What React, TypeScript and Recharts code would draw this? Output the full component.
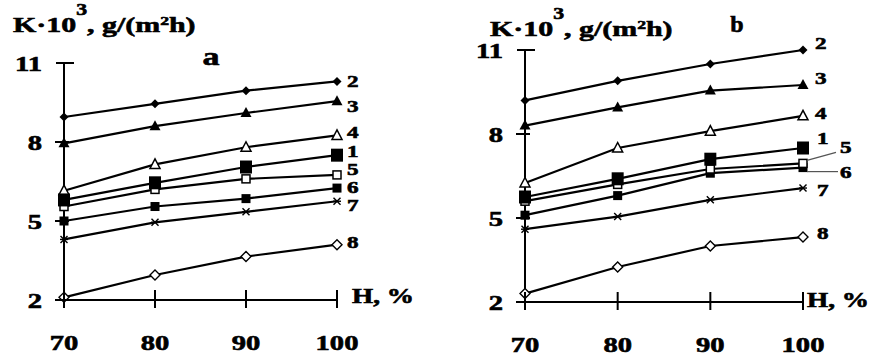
import React from 'react';
import { LineChart, Line, XAxis, YAxis } from 'recharts';

// relative humidity H, %
const humidity = [70, 80, 90, 100];
const yTicks = [2, 5, 8, 11];
const seriesNames = ['1', '2', '3', '4', '5', '6', '7', '8'];

// panel a: K·10^3, g/(m2h)
const a1 = [5.8, 6.45, 7.05, 7.5];
const a2 = [8.95, 9.45, 9.95, 10.3];
const a3 = [7.95, 8.6, 9.1, 9.55];
const a4 = [6.15, 7.15, 7.8, 8.25];
const a5 = [5.55, 6.2, 6.6, 6.75];
const a6 = [5.0, 5.55, 5.85, 6.25];
const a7 = [4.3, 4.95, 5.35, 5.75];
const a8 = [2.1, 2.95, 3.65, 4.1];

// panel b
const b1 = [5.75, 6.4, 7.1, 7.5];
const b2 = [9.2, 9.9, 10.5, 11.0];
const b3 = [8.3, 8.95, 9.55, 9.75];
const b4 = [6.25, 7.5, 8.1, 8.65];
const b5 = [5.6, 6.2, 6.75, 6.95];
const b6 = [5.1, 5.8, 6.6, 6.8];
const b7 = [4.6, 5.05, 5.65, 6.07];
const b8 = [2.3, 3.25, 4.0, 4.32];

const FONT = '"Liberation Serif", "Times New Roman", serif';
const SX = 1.36;

const shapes = ['bigSquare', 'diamond', 'triangle', 'openTriangle', 'openSquare', 'square', 'star', 'openDiamond'];

// label offsets from the last point: [dx, dy]
const labelOffA = [[10, -4], [10, 0], [10, 5], [10, -3], [10, -6], [10, -1], [10, 4], [10, -3]];
const labelOffB = [[14, -10], [12, -7], [12, -7], [12, -3], [37, -16], [37, 4], [14, 2], [14, -4]];

function buildRows(series: number[][]) {
  return humidity.map((h, i) => {
    const row: Record<string, number> = { h };
    series.forEach((s, k) => (row['s' + seriesNames[k]] = s[i]));
    return row;
  });
}

const rowsA = buildRows([a1, a2, a3, a4, a5, a6, a7, a8]);
const rowsB = buildRows([b1, b2, b3, b4, b5, b6, b7, b8]);

function T({ x, y, size, anchor = 'start', sx = SX, children }: any) {
  return (
    <text
      transform={`translate(${x},${y}) scale(${sx},1)`}
      textAnchor={anchor}
      fontFamily={FONT}
      fontWeight="bold"
      fontSize={size}
      fill="#000"
      stroke="#000"
      strokeWidth={0.6}
    >
      {children}
    </text>
  );
}

function MarkerShape({ cx, cy, shape }: any) {
  const k = '#000';
  switch (shape) {
    case 'bigSquare':
      return <rect x={cx - 6} y={cy - 6.5} width={12} height={13} fill={k} />;
    case 'diamond':
      return <polygon points={`${cx},${cy - 4.5} ${cx + 4.5},${cy} ${cx},${cy + 4.5} ${cx - 4.5},${cy}`} fill={k} />;
    case 'triangle':
      return <polygon points={`${cx},${cy - 6} ${cx + 5.5},${cy + 4} ${cx - 5.5},${cy + 4}`} fill={k} />;
    case 'openTriangle':
      return <polygon points={`${cx},${cy - 5.5} ${cx + 5},${cy + 4} ${cx - 5},${cy + 4}`} fill="#fff" stroke={k} strokeWidth={1.5} />;
    case 'openSquare':
      return <rect x={cx - 4} y={cy - 4} width={8} height={8} fill="#fff" stroke={k} strokeWidth={1.5} />;
    case 'square':
      return <rect x={cx - 4.5} y={cy - 4.5} width={9} height={9} fill={k} />;
    case 'star':
      return (
        <g stroke={k} strokeWidth={1.4}>
          <line x1={cx - 4} y1={cy} x2={cx + 4} y2={cy} />
          <line x1={cx - 3.5} y1={cy - 3.5} x2={cx + 3.5} y2={cy + 3.5} />
          <line x1={cx - 3.5} y1={cy + 3.5} x2={cx + 3.5} y2={cy - 3.5} />
        </g>
      );
    default:
      return <polygon points={`${cx},${cy - 5} ${cx + 5},${cy} ${cx},${cy + 5} ${cx - 5},${cy}`} fill="#fff" stroke={k} strokeWidth={1.4} />;
  }
}

function makeDot(k: number, offsets: number[][], leaders: boolean) {
  return (p: any) => {
    const { cx, cy, index } = p;
    const last = index === humidity.length - 1;
    const [dx, dy] = offsets[k];
    return (
      <g key={`dot-${k}-${index}`}>
        <MarkerShape cx={cx} cy={cy} shape={shapes[k]} />
        {last && leaders && k === 4 && (
          <line x1={cx + 4} y1={cy - 3} x2={cx + 33} y2={cy - 11} stroke="#555" strokeWidth={1.2} />
        )}
        {last && leaders && k === 5 && (
          <line x1={cx + 4} y1={cy + 4} x2={cx + 35} y2={cy + 4} stroke="#555" strokeWidth={1.2} />
        )}
        {last && (
          <T x={cx + dx} y={cy + dy + 6} size={17}>
            {seriesNames[k]}
          </T>
        )}
      </g>
    );
  };
}

function YTick({ x, y, payload }: any) {
  const top = payload.value === 11;
  return (
    <g>
      <line x1={x - (top ? 8 : 9)} x2={x + (top ? 10 : 5)} y1={y} y2={y} stroke="#000" strokeWidth={2} />
      <T x={x - 22} y={y + 7.5} size={21} anchor="end">
        {payload.value}
      </T>
    </g>
  );
}

function XTick({ x, y, payload }: any) {
  return (
    <g>
      <line x1={x} x2={x} y1={y - 10} y2={y + 8} stroke="#000" strokeWidth={2} />
      <T x={x} y={y + 50} size={21} anchor="middle">
        {payload.value}
      </T>
    </g>
  );
}

function Panel({ rows, width, margin, axisW, axisH, offsets, leaders }: any) {
  const order = [7, 6, 5, 4, 3, 2, 1, 0];
  return (
    <LineChart width={width} height={360} data={rows} margin={margin}>
      <XAxis
        dataKey="h"
        type="number"
        domain={[70, 100]}
        ticks={humidity}
        height={axisH}
        tickSize={0}
        tickMargin={0}
        tick={<XTick />}
        axisLine={{ stroke: '#000', strokeWidth: 2 }}
        tickLine={false}
        interval={0}
      />
      <YAxis
        type="number"
        domain={[2, 11]}
        ticks={yTicks}
        width={axisW}
        tickSize={0}
        tickMargin={0}
        tick={<YTick />}
        axisLine={{ stroke: '#000', strokeWidth: 2 }}
        tickLine={false}
        interval={0}
      />
      {order.map((k) => (
        <Line
          key={k}
          dataKey={'s' + seriesNames[k]}
          stroke="#000"
          strokeWidth={2.2}
          type="linear"
          dot={makeDot(k, offsets, leaders)}
          activeDot={false}
          isAnimationActive={false}
        />
      ))}
    </LineChart>
  );
}

function Title({ x, y }: any) {
  return (
    <T x={x} y={y} size={22}>
      K·10
      <tspan dy={-17} fontSize={16}>3</tspan>
      <tspan dy={17}>, g/(m</tspan>
      <tspan dy={-7} fontSize={13}>2</tspan>
      <tspan dy={7}>h)</tspan>
    </T>
  );
}

export default function App() {
  return (
    <div style={{ position: 'absolute', left: 0, top: 0, width: 871, height: 360, background: '#fff' }}>
      <div style={{ position: 'absolute', left: 0, top: 0 }}>
        <Panel rows={rowsA} width={435} margin={{ top: 63, left: 4, right: 98, bottom: 0 }} axisW={60} axisH={60} offsets={labelOffA} leaders={false} />
      </div>
      <div style={{ position: 'absolute', left: 435, top: 0 }}>
        <Panel rows={rowsB} width={436} margin={{ top: 50, left: 30, right: 68, bottom: 0 }} axisW={60} axisH={58} offsets={labelOffB} leaders={true} />
      </div>
      <svg width={871} height={360} style={{ position: 'absolute', left: 0, top: 0, pointerEvents: 'none' }}>
        <Title x={13} y={32} />
        <Title x={490} y={36} />
        <T x={211} y={65} size={25} anchor="middle">a</T>
        <T x={737} y={32} size={24} anchor="middle" sx={1}>b</T>
        <T x={352} y={303} size={20}>H, %</T>
        <T x={807} y={307} size={20}>H, %</T>
      </svg>
    </div>
  );
}
